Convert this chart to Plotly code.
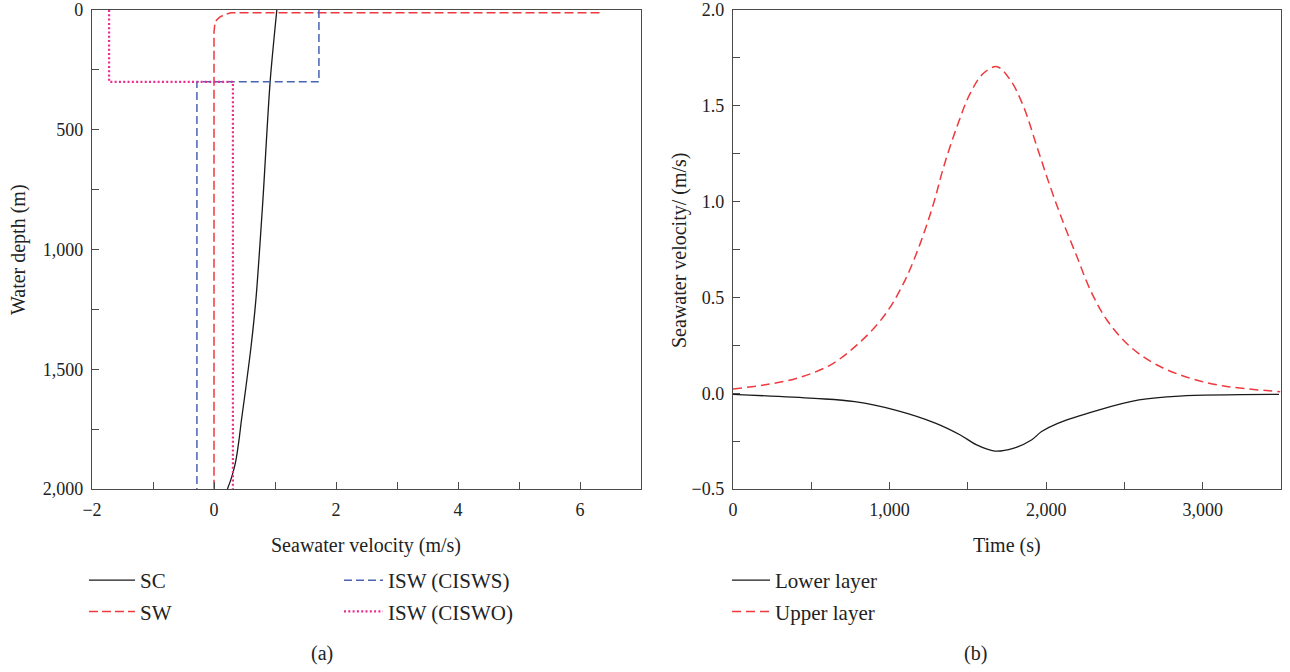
import plotly.graph_objects as go

W, H = 1290, 672

# ---------------- Panel (a): velocity profiles ----------------
sc_depth = [0, 300, 800, 1200, 1400, 1600, 1712, 1795, 1879, 1933, 1962, 2000]
sc_vel = [1.03, 0.92, 0.80, 0.69, 0.61, 0.51, 0.45, 0.41, 0.36, 0.31, 0.275, 0.22]

sw_depth = [11, 11, 12, 16, 21, 27, 33, 43, 54, 70, 92, 2000]
sw_vel = [6.32, 0.39, 0.28, 0.22, 0.16, 0.11, 0.08, 0.04, 0.015, 0.005, 0.0, 0.0]

cisws_depth = [0, 300, 300, 2000]
cisws_vel = [1.72, 1.72, -0.28, -0.28]

ciswo_depth = [0, 300, 300, 2000]
ciswo_vel = [-1.72, -1.72, 0.31, 0.31]

# ---------------- Panel (b): time series ----------------
t_upper = [0, 196, 409, 621, 792, 962, 1089, 1196, 1281, 1345, 1430, 1515, 1600,
           1686, 1771, 1856, 1941, 2026, 2111, 2197, 2282, 2388, 2537, 2708, 2920,
           3133, 3495]
v_upper = [0.022, 0.043, 0.078, 0.147, 0.252, 0.40, 0.573, 0.782, 0.99, 1.18, 1.39,
           1.565, 1.67, 1.704, 1.635, 1.495, 1.287, 1.078, 0.887, 0.712, 0.539,
           0.382, 0.243, 0.147, 0.078, 0.038, 0.008]

t_lower = [0, 519, 778, 1037, 1296, 1452, 1556, 1672, 1789, 1906, 1971, 2074, 2334,
           2593, 2852, 3487]
v_lower = [-0.006, -0.027, -0.044, -0.088, -0.157, -0.218, -0.27, -0.302, -0.288,
           -0.244, -0.2, -0.157, -0.088, -0.035, -0.015, -0.006]

FONT = "Liberation Serif"
AXC = "#4a4a4a"
RED = "#ee3a3f"
BLUE = "#4a63b3"
PINK = "#ec2a8f"


def px(x):
    return x / W


def py(y):
    return 1 - y / H


fig = go.Figure()

fig.add_trace(go.Scatter(x=sc_vel, y=sc_depth, name="SC", mode="lines",
                         line=dict(color="#1a1a1a", width=1.3, shape="spline", smoothing=0.8),
                         xaxis="x", yaxis="y", legend="legend", legendgroup="a1"))
fig.add_trace(go.Scatter(x=sw_vel, y=sw_depth, name="SW", mode="lines",
                         line=dict(color=RED, width=1.5, dash="9px,4px"),
                         xaxis="x", yaxis="y", legend="legend", legendgroup="a2"))
fig.add_trace(go.Scatter(x=cisws_vel, y=cisws_depth, name="ISW (CISWS)", mode="lines",
                         line=dict(color=BLUE, width=1.5, dash="8px,4px"),
                         xaxis="x", yaxis="y", legend="legend2", legendgroup="a3"))
fig.add_trace(go.Scatter(x=ciswo_vel, y=ciswo_depth, name="ISW (CISWO)", mode="lines",
                         line=dict(color=PINK, width=2.2, dash="2px,2.3px"),
                         xaxis="x", yaxis="y", legend="legend2", legendgroup="a4"))

fig.add_trace(go.Scatter(x=t_lower, y=v_lower, name="Lower layer", mode="lines",
                         line=dict(color="#1a1a1a", width=1.3, shape="spline"),
                         xaxis="x2", yaxis="y2", legend="legend3", legendgroup="b1"))
fig.add_trace(go.Scatter(x=t_upper, y=v_upper, name="Upper layer", mode="lines",
                         line=dict(color=RED, width=1.5, dash="9px,5px", shape="spline"),
                         xaxis="x2", yaxis="y2", legend="legend3", legendgroup="b2"))


def axis(domain, rng, dtick, minor_dtick, fmt, anchor, tick0=None):
    d = dict(domain=domain, range=rng, anchor=anchor, dtick=dtick,
             tickformat=fmt, showline=True, mirror=True, linecolor=AXC,
             linewidth=1.3, ticks="inside", ticklen=7, tickwidth=1.2,
             tickcolor=AXC, showgrid=False, zeroline=False, automargin=False,
             tickfont=dict(family=FONT, size=18, color="#222"),
             ticklabelstandoff=4,
             minor=dict(ticks="inside", ticklen=7, tickwidth=1.2, tickcolor=AXC,
                        dtick=minor_dtick, showgrid=False))
    if tick0 is not None:
        d["tick0"] = tick0
        d["minor"]["tick0"] = tick0
    return d


ydom = [py(489), py(10)]
LEGFONT = dict(family=FONT, size=21, color="#222")


def leg(x, iw):
    return dict(x=px(x), y=py(560), bgcolor="rgba(0,0,0,0)", font=LEGFONT,
                xanchor="left", yanchor="top", traceorder="grouped",
                tracegroupgap=1, itemwidth=iw)


fig.update_layout(
    width=W, height=H,
    margin=dict(l=0, r=0, t=0, b=0),
    paper_bgcolor="white", plot_bgcolor="white",
    font=dict(family=FONT, size=18, color="#222"),
    xaxis=axis([px(92), px(641)], [-2, 7], 2, 1, "d", "y", tick0=-2),
    yaxis=axis(ydom, [2000, 0], 500, 250, ",d", "x", tick0=0),
    xaxis2=axis([px(733), px(1281)], [0, 3500], 1000, 500, ",d", "y2", tick0=0),
    yaxis2=axis(ydom, [-0.5, 2.0], 0.5, 0.25, ".1f", "x2", tick0=0),
    legend=leg(84, 46),
    legend2=leg(339, 39),
    legend3=leg(727, 38),
    showlegend=True,
)

ann_font = dict(family=FONT, size=20, color="#222")
annotations = [
    dict(text="Seawater velocity (m/s)", x=px(366), y=py(545)),
    dict(text="Time (s)", x=px(1007), y=py(545)),
    dict(text="Water depth (m)", x=px(18), y=py(250), textangle=-90),
    dict(text="Seawater velocity/ (m/s)", x=px(679), y=py(250), textangle=-90),
    dict(text="(a)", x=px(322), y=py(653)),
    dict(text="(b)", x=px(975), y=py(653)),
]
for a in annotations:
    a.update(xref="paper", yref="paper", xanchor="center", yanchor="middle",
             showarrow=False, font=ann_font)
fig.update_layout(annotations=annotations)

fig.write_html("out.html", config={"displayModeBar": False},
               post_script="document.body.style.margin='0';document.body.style.overflow='hidden';")
